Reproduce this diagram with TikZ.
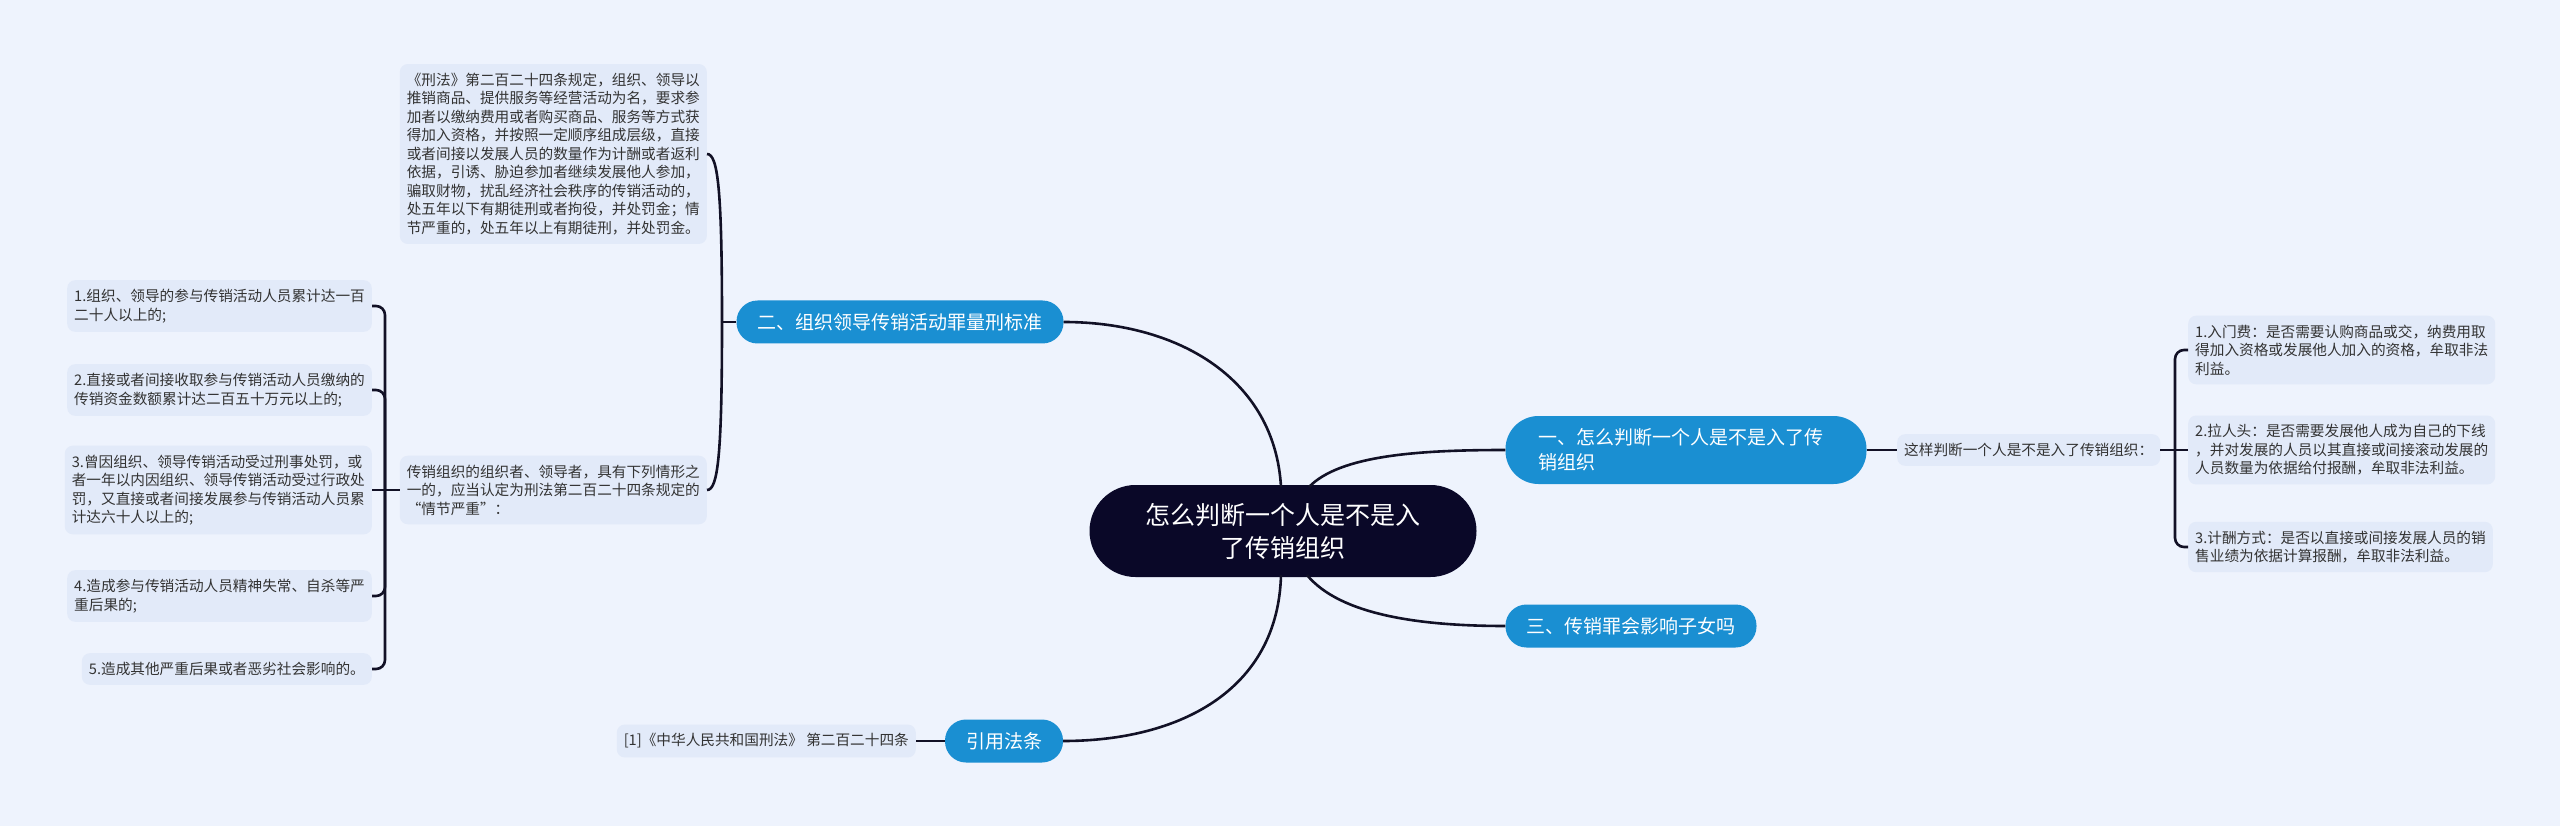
\documentclass[tikz,border=0pt]{standalone}
\usepackage{fontspec}
\setmainfont{Noto Sans CJK SC}
\definecolor{bgc}{HTML}{EEF3FD}
\definecolor{leaff}{HTML}{E2EAF9}
\definecolor{leaft}{HTML}{333333}
\definecolor{bluef}{HTML}{1A8FD2}
\definecolor{rootf}{HTML}{0A0828}
\definecolor{linec}{HTML}{121126}
\tikzset{
  conn/.style={line width=2.6pt, draw=linec},
  brk/.style={line width=2.6pt, draw=linec, rounded corners=9pt},
  leaf/.style={fill=leaff, rounded corners=8pt, inner xsep=7pt, inner ysep=9pt, align=left, text=leaft, font=\fontsize{14.65pt}{18.5pt}\selectfont},
  topic/.style={fill=bluef, text=white, rounded corners=21pt, minimum height=43pt, inner xsep=21pt, inner ysep=0pt, font=\fontsize{19pt}{24.5pt}\selectfont},
  rootnode/.style={fill=rootf, text=white, rounded corners=46pt, minimum width=387pt, minimum height=92pt, align=center, font=\fontsize{25pt}{33pt}\selectfont}
}
\begin{document}
\begin{tikzpicture}[x=1pt,y=-1pt]
\fill[bgc] (0,0) rectangle (2560,826);
\useasboundingbox (0,0) rectangle (2560,826);

% root
\node[rootnode] (root) at (1283,531) {怎么判断一个人是不是入\\了传销组织};

% topics
\node[topic] (t2) at (900,322) {二、组织领导传销活动罪量刑标准};
\node[topic] (t3) at (1631,626) {三、传销罪会影响子女吗};
\node[topic] (t4) at (1004,741) {引用法条};
\node[topic, rounded corners=33pt, minimum height=68pt, minimum width=361pt, text width=295pt, inner xsep=33pt, align=left] (t1) at (1686,450) {一、怎么判断一个人是不是入了传\\销组织};

% left branch of topic 2
\node[leaf, anchor=east] (A) at (707,154) {《刑法》第二百二十四条规定，组织、领导以\\推销商品、提供服务等经营活动为名，要求参\\加者以缴纳费用或者购买商品、服务等方式获\\得加入资格，并按照一定顺序组成层级，直接\\或者间接以发展人员的数量作为计酬或者返利\\依据，引诱、胁迫参加者继续发展他人参加，\\骗取财物，扰乱经济社会秩序的传销活动的，\\处五年以下有期徒刑或者拘役，并处罚金；情\\节严重的，处五年以上有期徒刑，并处罚金。};
\node[leaf, anchor=east] (B) at (707,490) {传销组织的组织者、领导者，具有下列情形之\\一的，应当认定为刑法第二百二十四条规定的\\“情节严重”：};

\node[leaf, anchor=east] (L1) at (372,306) {1.组织、领导的参与传销活动人员累计达一百\\二十人以上的;};
\node[leaf, anchor=east] (L2) at (372,390) {2.直接或者间接收取参与传销活动人员缴纳的\\传销资金数额累计达二百五十万元以上的;};
\node[leaf, anchor=east] (L3) at (372,490) {3.曾因组织、领导传销活动受过刑事处罚，或\\者一年以内因组织、领导传销活动受过行政处\\罚，又直接或者间接发展参与传销活动人员累\\计达六十人以上的;};
\node[leaf, anchor=east] (L4) at (372,596) {4.造成参与传销活动人员精神失常、自杀等严\\重后果的;};
\node[leaf, anchor=east] (L5) at (372,669) {5.造成其他严重后果或者恶劣社会影响的。};

% right branch of topic 1
\node[leaf, anchor=west] (J) at (1897,450) {这样判断一个人是不是入了传销组织：};
\node[leaf, anchor=west] (R1) at (2188,350) {1.入门费：是否需要认购商品或交，纳费用取\\得加入资格或发展他人加入的资格，牟取非法\\利益。};
\node[leaf, anchor=west] (R2) at (2188,450) {2.拉人头：是否需要发展他人成为自己的下线\\，并对发展的人员以其直接或间接滚动发展的\\人员数量为依据给付报酬，牟取非法利益。};
\node[leaf, anchor=west] (R3) at (2188,547) {3.计酬方式：是否以直接或间接发展人员的销\\售业绩为依据计算报酬，牟取非法利益。};

% reference
\node[leaf, anchor=east] (Ref) at (916,741) {[1]《中华人民共和国刑法》 第二百二十四条};

% coordinates
\coordinate (rt1) at (1281,487);
\coordinate (rt2) at (1309,487);
\coordinate (rb1) at (1281,575);
\coordinate (rb2) at (1307,575);
\coordinate (j2) at (722,322);
\coordinate (jB) at (385,490);
\coordinate (jJ) at (2175,450);

% root connectors
\draw[conn] (rt1) .. controls (1275,380) and (1180,322) .. (t2.east);
\draw[conn] (rt2) .. controls (1340,455) and (1420,450) .. (t1.west);
\draw[conn] (rb2) .. controls (1340,615) and (1420,626) .. (t3.west);
\draw[conn] (rb1) .. controls (1278,690) and (1180,741) .. (t4.east);

% topic 2 connectors
\draw[conn] (t2.west) -- (j2);
\draw[conn] (j2) .. controls (722,190) and (718,154) .. (A.east);
\draw[conn] (j2) .. controls (722,455) and (718,490) .. (B.east);

% B to left items
\draw[conn] (B.west) -- (jB);
\draw[brk] (jB) |- (L1.east);
\draw[brk] (jB) |- (L2.east);
\draw[conn] (jB) -- (L3.east);
\draw[brk] (jB) |- (L4.east);
\draw[brk] (jB) |- (L5.east);

% topic 1 connectors
\draw[conn] (t1.east) -- (J.west);
\draw[conn] (J.east) -- (jJ);
\draw[brk] (jJ) |- (R1.west);
\draw[conn] (jJ) -- (R2.west);
\draw[brk] (jJ) |- (R3.west);

% reference connector
\draw[conn] (t4.west) -- (Ref.east);
\end{tikzpicture}
\end{document}
